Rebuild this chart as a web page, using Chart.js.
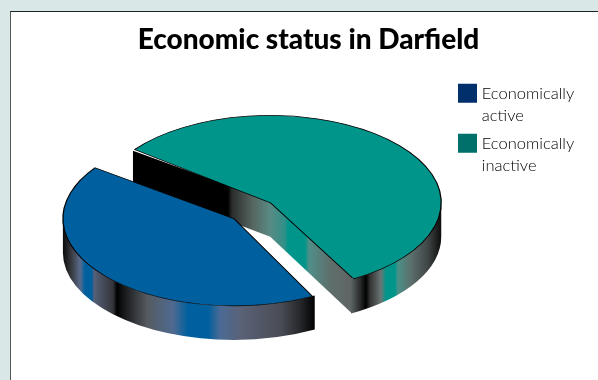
<!DOCTYPE html>
<html>
<head>
<meta charset="utf-8">
<title>Economic status in Darfield</title>
<script src="https://cdn.jsdelivr.net/npm/chart.js@4"></script>
<style>
    html, body { margin: 0; padding: 0; width: 598px; height: 380px; overflow: hidden; background: #d9e8e6; }
    #frame { position: absolute; left: 10px; top: 11px; width: 600px; height: 380px; background: #fff; border-left: 1px solid #555; border-top: 1px solid #1c2322; }
    canvas { position: absolute; left: 0; top: 0; }
</style>
</head>
<body>
<div id="frame"></div>
<canvas id="statusPie" width="598" height="380"></canvas>
<script>
const chartTitle = 'Economic status in Darfield';
const categories = [['Economically', 'active'], ['Economically', 'inactive']];
const shares = [43, 57];
const sliceColors = ['#00609f', '#00958b'];
const legendColors = ['#002f6c', '#00706a'];

// tilt of the pie and height of its side wall
const squash = 0.51;
const wallDepth = 34;
const pieX = 257;
const pieY = 208.5;

// wall shading, [screen x, colour]
const blueRimShade = [[62, '#060606'], [72, '#3a3d42'], [80, '#5a6a8a'], [85, '#00609f'], [92, '#00609f'], [94, '#566078'], [113, '#333539'], [117, '#000'], [123, '#141516'], [147, '#555a60'], [173, '#4f6a90'], [188, '#00609f'], [208, '#00609f'], [220, '#4a6a95'], [240, '#5a6278'], [280, '#4a4d55'], [300, '#26282b'], [315, '#000']];
const tealRimShade = [[351, '#5a6463'], [360, '#2a2c2c'], [366, '#000'], [370, '#333'], [381, '#6b7573'], [386, '#00958b'], [395, '#00958b'], [398, '#4b9088'], [411, '#5c6f6c'], [428, '#3f4546'], [440, '#111']];
const tealSideShade = [[132, '#000'], [228, '#000'], [232, '#2a2c2c'], [253, '#566660'], [270, '#5a8a85'], [285, '#2f9088'], [288, '#00958b'], [305, '#00958b'], [309, '#4f8f88'], [330, '#5f6f6c'], [351, '#5f6564']];

function shade(ctx, stops) {
    const x0 = stops[0][0];
    const x1 = stops[stops.length - 1][0];
    const gradient = ctx.createLinearGradient(x0, 0, x1, 0);
    stops.forEach(([x, color]) => gradient.addColorStop((x - x0) / (x1 - x0), color));
    return gradient;
}

// Chart.js moves an offset arc and grows it, so work out where it really ends up
function arcShape(arc) {
    const offset = arc.options.offset / 4;
    const fix = 1 - Math.sin(Math.min(Math.PI, arc.circumference));
    const half = (arc.startAngle + arc.endAngle) / 2;
    const cx = pieX + Math.cos(half) * offset;
    const cy = pieY + Math.sin(half) * offset * squash;
    const r = arc.outerRadius + offset * fix;
    return { cx, cy, r, ry: r * squash, start: arc.startAngle, end: arc.endAngle };
}

function rimPoint(shape, angle) {
    return [shape.cx + Math.cos(angle) * shape.r, shape.cy + Math.sin(angle) * shape.ry];
}

function drawRim(ctx, shape, from, to, stops) {
    ctx.beginPath();
    ctx.ellipse(shape.cx, shape.cy, shape.r, shape.ry, 0, from, to);
    ctx.ellipse(shape.cx, shape.cy + wallDepth, shape.r, shape.ry, 0, to, from, true);
    ctx.closePath();
    ctx.fillStyle = shade(ctx, stops);
    ctx.fill();
}

// both cut faces as one shape, tucked a little under the slice top so no seam shows
function drawCutFaces(ctx, shape, stops) {
    const [x0, y0] = rimPoint(shape, shape.start);
    const [x1, y1] = rimPoint(shape, shape.end);
    ctx.beginPath();
    ctx.moveTo(x0, y0);
    ctx.lineTo(shape.cx, shape.cy - 2);
    ctx.lineTo(x1 + 1, y1 - 2);
    ctx.lineTo(x1 + 1, y1 + wallDepth);
    ctx.lineTo(shape.cx, shape.cy + wallDepth);
    ctx.lineTo(x0, y0 + wallDepth);
    ctx.closePath();
    ctx.fillStyle = shade(ctx, stops);
    ctx.fill();
}

const tiltedPie = {
    id: 'tiltedPie',
    afterLayout(chart) {
        // legend sits top right, next to the pie
        const padding = chart.legend.options.labels.padding;
        chart.legend.left = 461.5 - padding;
        chart.legend.top = 85 - padding;
    },
    beforeDatasetsDraw(chart) {
        const ctx = chart.ctx;
        const arcs = chart.getDatasetMeta(0).data;
        const active = arcShape(arcs[0]);
        const inactive = arcShape(arcs[1]);

        ctx.save();
        drawCutFaces(ctx, inactive, tealSideShade);
        drawRim(ctx, inactive, Math.PI * 2, inactive.end, tealRimShade);
        drawRim(ctx, active, active.start, Math.PI, blueRimShade);
        ctx.restore();

        // the slice tops are plain arcs, flattened into ellipses
        ctx.save();
        ctx.translate(pieX, pieY);
        ctx.scale(1, squash);
        ctx.translate(-arcs[0].x, -arcs[0].y);
    },
    afterDatasetsDraw(chart) {
        chart.ctx.restore();
    }
};

new Chart(document.getElementById('statusPie'), {
    type: 'pie',
    data: {
        labels: categories,
        datasets: [{
            data: shares,
            backgroundColor: sliceColors,
            borderColor: '#000',
            borderWidth: 1.3,
            offset: [122, 70],
            clip: false
        }]
    },
    options: {
        responsive: false,
        animation: false,
        rotation: 151.8,
        radius: 153.5,
        layout: { padding: { left: 19 } },
        events: [],
        plugins: {
            title: {
                display: true,
                text: chartTitle,
                color: '#000',
                font: { family: 'Lato', size: 28, weight: '900' },
                padding: { top: 23, bottom: 10 }
            },
            legend: {
                position: 'right',
                align: 'start',
                labels: {
                    // a small box with a wide stroke keeps the label close to the swatch
                    boxWidth: 12,
                    boxHeight: 12,
                    padding: 6,
                    color: '#333',
                    font: { family: 'Lato', size: 16.5, weight: '300', lineHeight: 1.333 },
                    generateLabels: () => categories.map((text, i) => ({
                        text,
                        fillStyle: legendColors[i],
                        strokeStyle: legendColors[i],
                        lineWidth: 7,
                        lineJoin: 'miter',
                        hidden: false,
                        index: i
                    }))
                }
            },
            tooltip: { enabled: false }
        }
    },
    plugins: [tiltedPie]
});
</script>
</body>
</html>
